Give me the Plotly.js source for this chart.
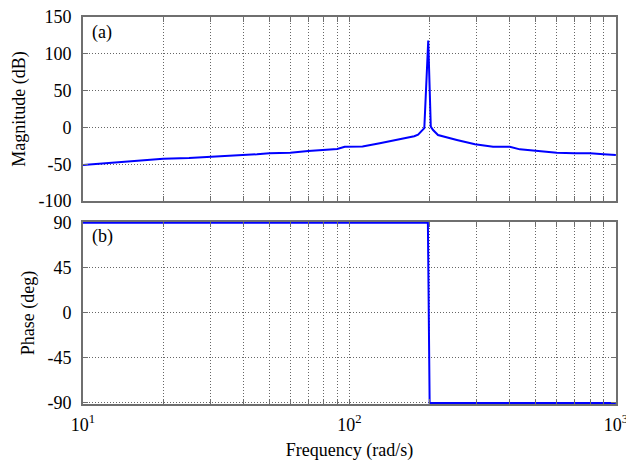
<!DOCTYPE html>
<html>
<head>
<meta charset="utf-8">
<script src="https://cdn.plot.ly/plotly-3.0.1.min.js"></script>
<style>html,body{margin:0;padding:0;background:#fff;}#chart{width:626px;height:466px;}</style>
</head>
<body>
<div id="chart"></div>
<script>
// Magnitude response
var magFreq = [10, 20, 25, 30, 40, 45, 50, 60, 70, 90, 96, 112, 130, 155, 175, 181, 185, 191, 197.6, 202, 206, 215, 253, 296, 346, 400, 436, 500, 600, 700, 800, 900, 1000];
var magDb   = [-51, -42.5, -41.5, -40, -38.4, -36.5, -35.2, -34.4, -32, -29.4, -26.2, -26, -21.6, -16.2, -12, -10, -6, -1, 118, 1, -3.5, -10.3, -17, -23, -26.2, -26.2, -29.8, -31.6, -34.4, -35.2, -35.2, -36.6, -37.5];
// Phase response
var phaseFreq = [10, 197, 200, 1000];
var phaseDeg  = [90, 90, -90, -90];
// Axis ticks
var gridFreq = [10,20,30,40,50,60,70,80,90,100,200,300,400,500,600,700,800,900,1000];
var gridText = ['10<sup>1</sup>',' ',' ',' ',' ',' ',' ',' ',' ','10<sup>2</sup>',' ',' ',' ',' ',' ',' ',' ',' ','10<sup>3</sup>'];
var magTicks = [-100,-50,0,50,100,150];
var magText = ['-100','-50','0','50','100','150'];
var phaseTicks = [-90,-45,0,45,90];
var phaseText = ['-90','-45','0','45','90'];

var font = {family: 'Liberation Serif', size: 18, color: '#000'};
var frame = '#6f6f6f';
function xax(showLabels, anchor){
  return {type:'log', range:[1,3.0005], anchor:anchor, tickmode:'array', tickvals:gridFreq, ticktext:gridText,
    showticklabels:showLabels, tickangle:0, ticklabeloverflow:'allow', ticks:'inside', ticklen:5, tickcolor:frame, tickwidth:1,
    showline:true, linecolor:frame, linewidth:2, mirror:'ticks',
    showgrid:true, gridcolor:'#666', griddash:'1px,2px', gridwidth:1, zeroline:false,
    tickfont:font, ticklabelstandoff:3};
}
function yax(ticks, text, range, domain, anchor, title){
  return {range:range, domain:domain, anchor:anchor, tickmode:'array', tickvals:ticks, ticktext:text,
    ticks:'inside', ticklen:5, tickcolor:frame, tickwidth:1,
    showline:true, linecolor:frame, linewidth:2, mirror:'ticks',
    showgrid:true, gridcolor:'#666', griddash:'1px,2px', gridwidth:1, zeroline:false,
    tickfont:font, ticklabelstandoff:6,
    title:{text:title, font:font, standoff:8}};
}
var traces = [
  {x:magFreq, y:magDb, xaxis:'x', yaxis:'y', type:'scatter', mode:'lines', line:{color:'#0000ff', width:2}},
  {x:phaseFreq, y:phaseDeg, xaxis:'x2', yaxis:'y2', type:'scatter', mode:'lines', line:{color:'#0000ff', width:2}}
];
var layout = {
  width:626, height:466, margin:{l:83, r:10, t:17, b:62},
  paper_bgcolor:'#fff', plot_bgcolor:'#fff', showlegend:false, font:font,
  xaxis: xax(false, 'y'),
  xaxis2: Object.assign(xax(true, 'y2'), {title:{text:'Frequency (rad/s)', font:font, standoff:10}}),
  yaxis: yax(magTicks, magText, [-100,150], [0.5245,1], 'x', 'Magnitude (dB)'),
  yaxis2: yax(phaseTicks, phaseText, [-91,90.8], [0,0.4703], 'x2', 'Phase (deg)'),
  annotations:[
    {text:'(a)', xref:'paper', yref:'paper', x:0.013, y:0.959, xanchor:'left', yanchor:'middle', showarrow:false, font:font},
    {text:'(b)', xref:'paper', yref:'paper', x:0.013, y:0.434, xanchor:'left', yanchor:'middle', showarrow:false, font:font}
  ]
};
Plotly.newPlot('chart', traces, layout, {displayModeBar:false, staticPlot:true});
</script>
</body>
</html>
